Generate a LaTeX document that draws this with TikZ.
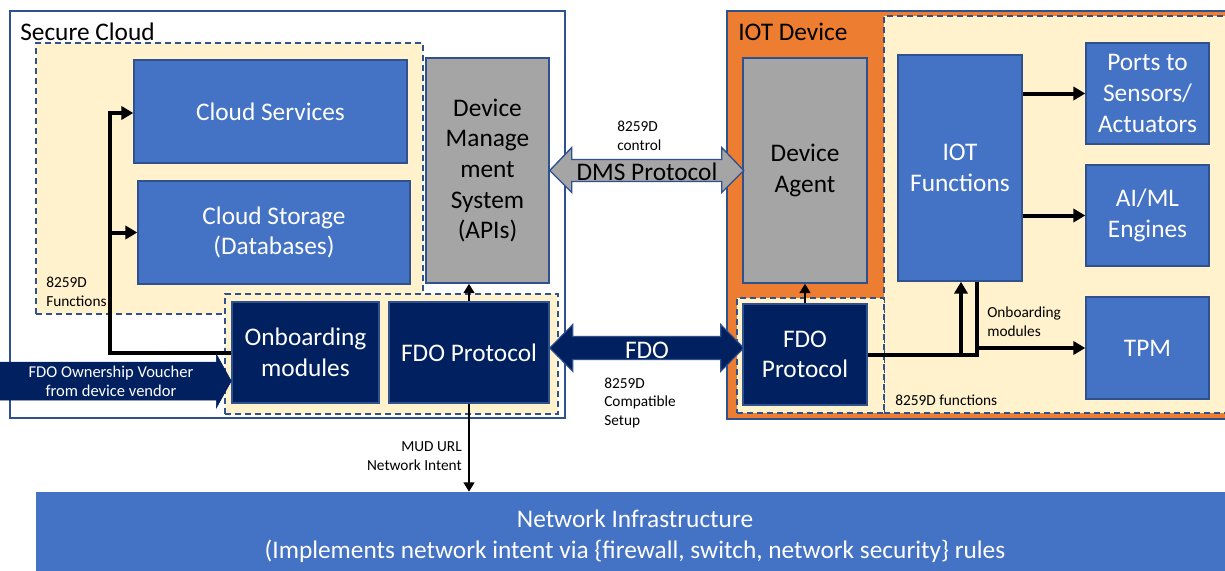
\documentclass[tikz,border=0pt]{standalone}
\usepackage{fontspec}
\setmainfont{Carlito}
\usetikzlibrary{positioning, arrows.meta}

\definecolor{boxblue}{HTML}{4472C4}
\definecolor{edgeblue}{HTML}{2F528F}
\definecolor{navy}{HTML}{002060}
\definecolor{dmsgrey}{HTML}{A5A5A5}
\definecolor{iotorange}{HTML}{ED7D31}
\definecolor{regionyellow}{HTML}{FFF2CC}

\begin{document}
\begin{tikzpicture}[x=0.75pt, y=-0.75pt,
    sz/.style 2 args={minimum width=#1*0.75pt, minimum height=#2*0.75pt},
    big/.style={font=\fontsize{19}{23}\selectfont, align=center},
    small/.style={font=\fontsize{11.5}{14}\selectfont, inner sep=0pt},
    box/.style={big, draw=edgeblue, line width=1.1pt, fill=boxblue, text=white, inner sep=0pt},
    navybox/.style={box, fill=navy},
    greybox/.style={box, fill=dmsgrey, text=black},
    region/.style={draw=edgeblue, dash pattern=on 4.5pt off 3pt, line width=1pt, fill=regionyellow, inner sep=0pt},
    frame/.style={draw=edgeblue, line width=1pt, inner sep=0pt},
    flow/.style={line width=3pt, -{Triangle[length=9pt, width=10pt]}},
    thinflow/.style={line width=2.2pt, -{Triangle[length=7pt, width=8pt]}},
    wire/.style={line width=3pt},
  ]
  \clip (0,0) rectangle (1225,571);
  \fill[white] (0,0) rectangle (1225,571);

  % Secure Cloud
  \node[frame, fill=white, sz={555}{407}] (cloud) at (287.5,214.5) {};
  \node[big, anchor=base west, inner sep=0pt] (cloudtitle) at (20,40) {Secure Cloud};
  \node[region, sz={387}{271}] (funcA) at (229.5,178.5) {};
  \node[region, sz={333}{120}] (funcB) at (391.5,354) {};
  \node[box, sz={273}{103}] (services) at (270.5,111.5) {Cloud Services};
  \node[box, sz={272}{103}] (storage) at (274,232.5) {Cloud Storage\\(Databases)};
  \node[greybox, sz={123}{225}] (dms) at (487.5,170.5) {Device\\Manage\\ment\\System\\(APIs)};
  \node[navybox, sz={147}{101}] (onboard) at (305.5,352.5) {Onboarding\\modules};
  \node[navybox, sz={160}{101}] (fdoC) at (469,352.5) {FDO Protocol};
  \node[small, align=left, anchor=base west] (funcAlbl) at (46,306.5) {8259D\\Functions};

  \coordinate (trunk) at (110,113);
  \draw[flow] (onboard.west) -| (trunk) -- (trunk -| services.west);
  \draw[flow] (trunk |- storage.west) -- (storage.west);
  \draw[thinflow] (fdoC.north) -- (fdoC.north |- dms.south);

  % voucher arrow
  \draw[navy, fill=navy] ([yshift=-21.4pt]onboard.west) -- ++(-15,-27) -- ++(0,8) -- ++(-230,0)
    -- ++(0,38) -- ++(230,0) -- ++(0,8) -- cycle;
  \node[text=white, font=\fontsize{12.4}{14.3}\selectfont, align=center] (voucher) at (111,381)
    {FDO Ownership Voucher\\from device vendor};

  % IOT Device
  \node[frame, fill=iotorange, sz={513}{408}] (iotdev) at (983.5,215) {};
  \node[big, anchor=base west, inner sep=0pt] (iottitle) at (738,40) {IOT Device};
  \node[region, sz={356}{397}] (funcC) at (1062,214.5) {};
  \node[region, sz={147}{115}] (funcD) at (810.5,355.5) {};
  \node[greybox, sz={124}{225}] (agent) at (805,170.5) {Device\\Agent};
  \node[navybox, sz={124}{101}] (fdoD) at (805,354.5) {FDO\\Protocol};
  \node[box, sz={124}{226}] (iotfn) at (960,168) {IOT\\Functions};
  \node[box, sz={123}{101}] (ports) at (1147.5,93.5) {Ports to\\Sensors/\\Actuators};
  \node[box, sz={123}{101}] (aiml) at (1147.5,215.5) {AI/ML\\Engines};
  \node[box, sz={123}{102}] (tpm) at (1147.5,348) {TPM};
  \node[small, align=left, anchor=base west] (onblbl) at (987,336.5) {Onboarding\\modules};
  \node[small, anchor=base west] (funcClbl) at (895,405) {8259D functions};

  \draw[flow] (iotfn.east |- ports.west) -- (ports.west);
  \draw[flow] (iotfn.east |- aiml.west) -- (aiml.west);
  \coordinate (jn) at (977,354.5);
  \coordinate (up) at (961,354.5);
  \draw[wire] (fdoD.east) -- (jn) -- (jn |- iotfn.south);
  \draw[flow] (up) -- (up |- iotfn.south);
  \draw[flow] (jn |- tpm.west) -- (tpm.west);
  \draw[thinflow] (fdoD.north) -- (agent.south);

  % links between cloud and device
  \draw[edgeblue, fill=dmsgrey, line width=1pt] (dms.east) -- ++(22,-23) -- ++(0,12) -- ++(150,0)
    -- ++(0,-12) -- ++(22,23) -- ++(-22,22) -- ++(0,-11) -- ++(-150,0) -- ++(0,11) -- cycle;
  \node[big] (dmslink) at (647,172) {DMS Protocol};
  \node[small, align=left, anchor=base west] (dmslbl) at (617,150.5) {8259D\\control};

  \draw[edgeblue, fill=navy, line width=0.8pt] ([yshift=3.4pt]fdoC.east) -- ++(23,-23.5) -- ++(0,12) -- ++(148,0)
    -- ++(0,-12) -- ++(23,23.5) -- ++(-23,23.5) -- ++(0,-12) -- ++(-148,0) -- ++(0,12) -- cycle;
  \node[big, text=white] (fdolink) at (647,350) {FDO};
  \node[small, align=left, anchor=base west] (fdolbl) at (604,425.5) {8259D\\Compatible\\Setup};

  % Network
  \node[big, fill=boxblue, text=white, sz={1198}{88}] (net) at (635,536)
    {Network Infrastructure\\(Implements network intent via \{firewall, switch, network security\} rules};
  \draw[thinflow] (fdoC.south) -- (fdoC.south |- net.north);
  \node[small, align=right, anchor=base east] (mudlbl) at (462,470.5) {MUD URL\\Network Intent};
\end{tikzpicture}
\end{document}
